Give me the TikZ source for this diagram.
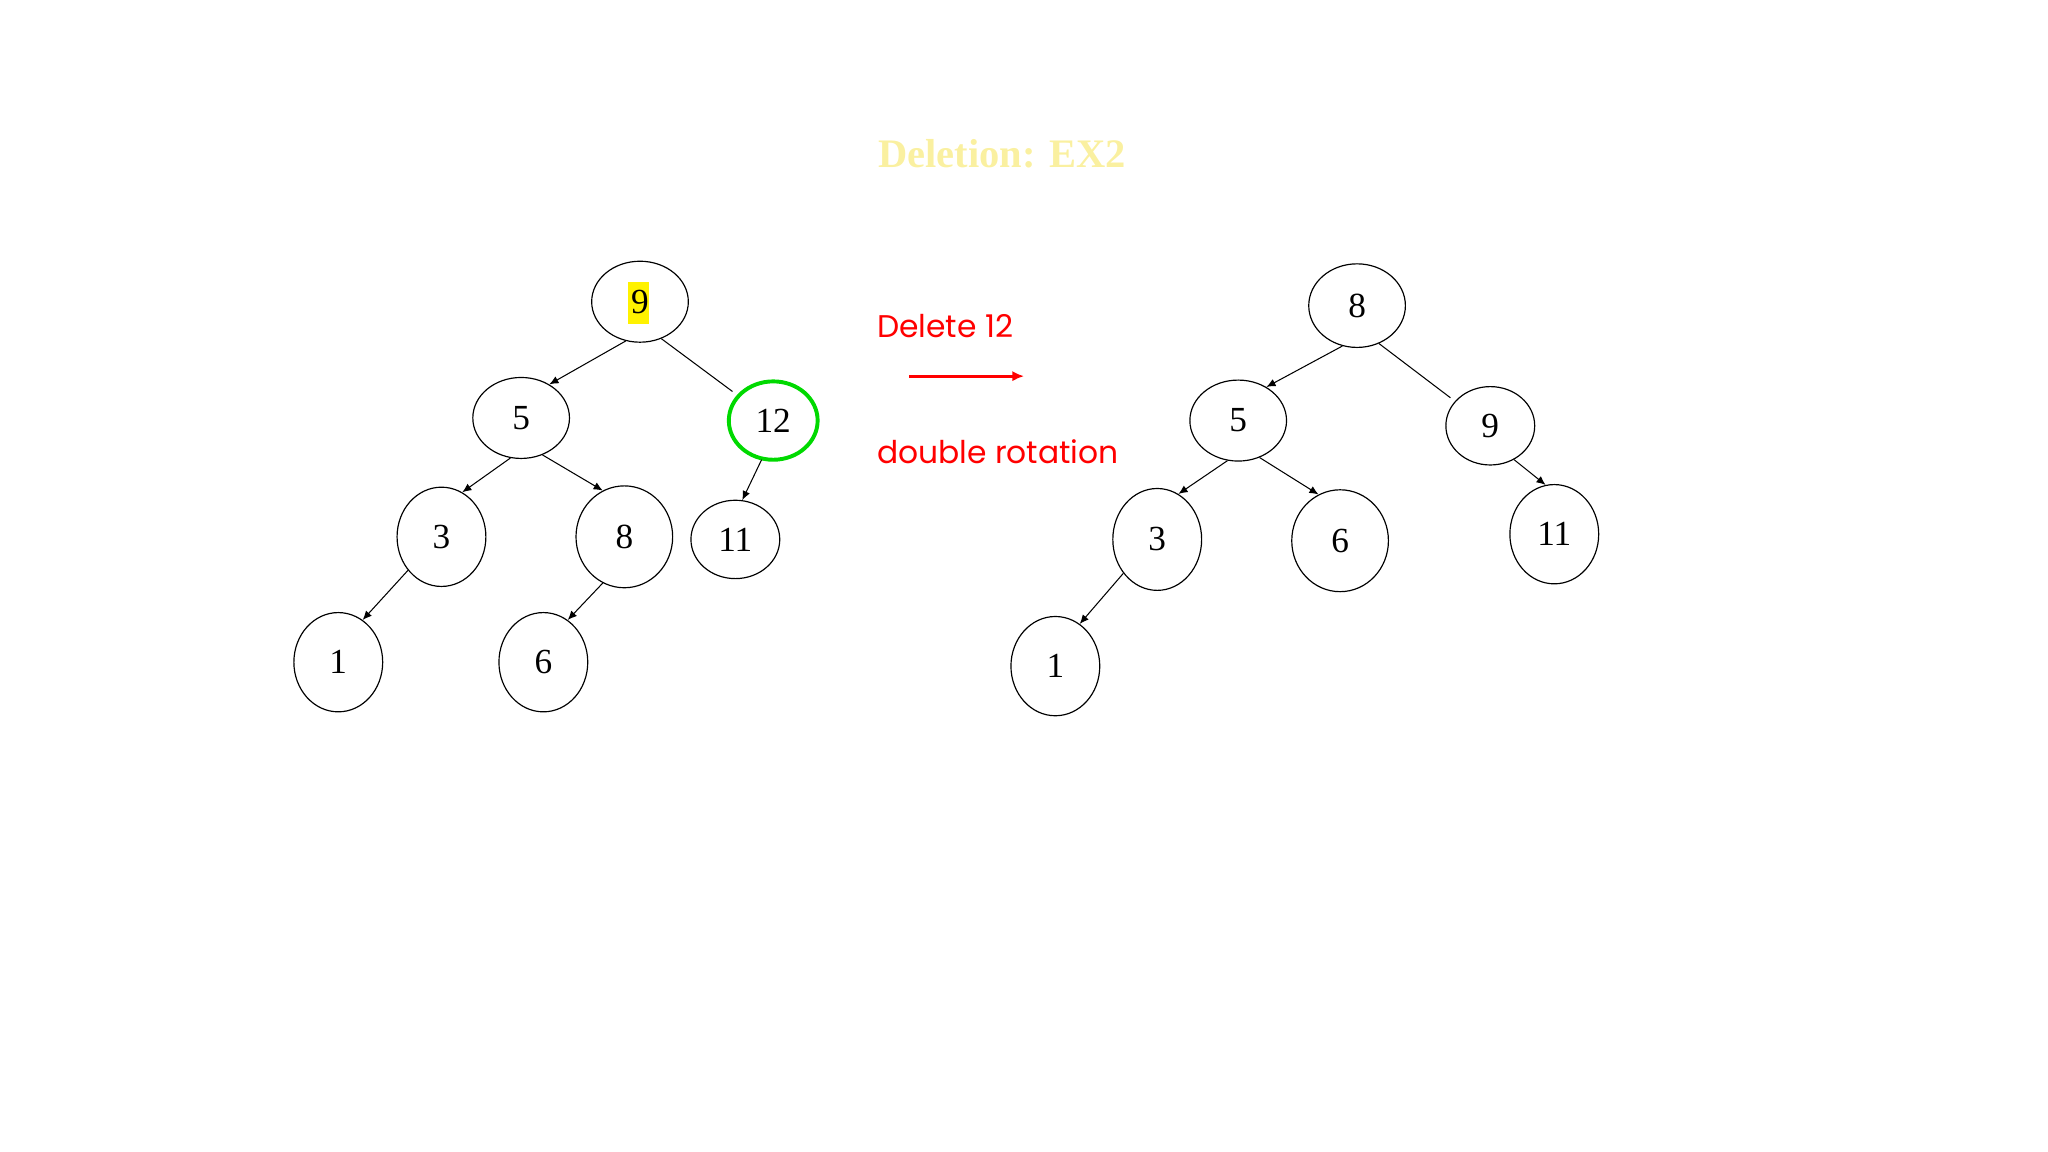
\documentclass[tikz,border=0pt]{standalone}
\usepackage{fontspec}
\setmainfont{Liberation Serif}
\newfontfamily\redfont{Poppins}
\usetikzlibrary{shapes.geometric,arrows.meta}
\definecolor{ttl}{RGB}{250,240,160}
\begin{document}
\begin{tikzpicture}[x=1pt,y=-1pt,
  nd/.style={draw,ellipse,line width=0.9pt,font=\fontsize{27}{30}\selectfont,inner sep=0pt},
  ar/.style={-{Latex[length=7pt,width=6pt]},line width=0.8pt},
  ln/.style={line width=0.8pt},
  rtxt/.style={text=red,font=\redfont\fontsize{24}{28}\selectfont,anchor=west}]
\useasboundingbox (0,0) rectangle (1568,882);
\node[text=ttl,font=\bfseries\fontsize{31}{34}\selectfont] (title) at (767,118) {Deletion: EX2};
% left tree
\fill[yellow] (481,216) rectangle (497,248);
\node[nd,minimum width=74pt,minimum height=62pt] (a9) at (490,231) {9};
\node[nd,minimum width=74pt,minimum height=62pt] (a5) at (399,320) {5};
\node[nd,draw=green!85!black,line width=3pt,minimum width=68pt,minimum height=60pt] (a12) at (592,322) {12};
\node[nd,minimum width=68pt,minimum height=76pt] (a3) at (338,411) {3};
\node[nd,minimum width=74pt,minimum height=78pt] (a8) at (478,411) {8};
\node[nd,minimum width=68pt,minimum height=60pt] (a11) at (563,413) {11};
\node[nd,minimum width=68pt,minimum height=76pt] (a1) at (259,507) {1};
\node[nd,minimum width=68pt,minimum height=76pt] (a6) at (416,507) {6};
\draw[ar] (a9.-110) -- (a5.50);
\draw[ln] (a9.-60) -- ([shift={(-10pt,-3pt)}]a12.130);
\draw[ar] (a5.-105) -- (a3.65);
\draw[ar] (a5.-60) -- (a8.115);
\draw[ar] ([shift={(2pt,0)}]a12.-110) -- (a11.80);
\draw[ar] (a3.-135) -- (a1.60);
\draw[ar] (a8.-115) -- (a6.60);
% middle
\node[rtxt] (del) at (668,250) {Delete 12};
\node[rtxt] (dr) at (668,346) {double rotation};
\coordinate (p) at (696,288); \coordinate (q) at (784,288);
\draw[-{Latex[length=9pt,width=8pt]},red,line width=2.5pt] (p) -- (q);
% right tree
\node[nd,minimum width=74pt,minimum height=64pt] (b8) at (1039,234) {8};
\node[nd,minimum width=74pt,minimum height=62pt] (b5) at (948,322) {5};
\node[nd,minimum width=68pt,minimum height=60pt] (b9) at (1141,326) {9};
\node[nd,minimum width=68pt,minimum height=78pt] (b3) at (886,413) {3};
\node[nd,minimum width=74pt,minimum height=78pt] (b6) at (1026,414) {6};
\node[nd,minimum width=68pt,minimum height=76pt] (b11) at (1190,409) {11};
\node[nd,minimum width=68pt,minimum height=76pt] (b1) at (808,510) {1};
\draw[ar] (b8.-110) -- (b5.50);
\draw[ln] (b8.-60) -- ([shift={(-10pt,-3pt)}]b9.130);
\draw[ar] (b5.-105) -- (b3.65);
\draw[ar] (b5.-60) -- (b6.115);
\draw[ar] (b9.-55) -- (b11.100);
\draw[ar] (b3.-135) -- (b1.60);
\end{tikzpicture}
\end{document}
